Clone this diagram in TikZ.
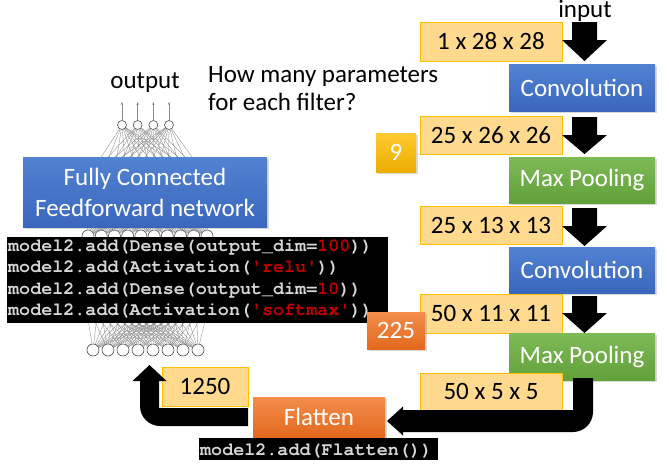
\documentclass[tikz,border=0pt]{standalone}
\usepackage{fontspec}
\setmainfont{Carlito}
\newfontfamily\codefont{TeX Gyre Cursor}
\usetikzlibrary{shadows,arrows.meta}
\definecolor{lightfill}{HTML}{FFD98E}
\definecolor{goldline}{HTML}{FFC000}
\definecolor{blueT}{HTML}{5282D2}
\definecolor{blueB}{HTML}{3A67BD}
\definecolor{greenT}{HTML}{7EBB57}
\definecolor{greenB}{HTML}{62A03A}
\definecolor{orangeT}{HTML}{F38D4C}
\definecolor{orangeB}{HTML}{E2691D}
\definecolor{goldT}{HTML}{FFCA30}
\definecolor{goldB}{HTML}{EBAC00}
\definecolor{codegray}{HTML}{D6D6D6}
\definecolor{codered}{HTML}{C00000}
\definecolor{nnline}{HTML}{8A8A8A}
\tikzset{
  big/.style={font=\fontsize{25}{30}\selectfont},
  box/.style={rectangle, inner sep=0pt, big},
  shad/.style={drop shadow={shadow xshift=1.5pt, shadow yshift=-2pt, opacity=0.3}},
  lightbox/.style={box, fill=lightfill, draw=goldline, line width=0.9pt, text=black},
  bluebox/.style={box, shad, top color=blueT, bottom color=blueB, text=white},
  greenbox/.style={box, shad, top color=greenT, bottom color=greenB, text=white},
  orangebox/.style={box, shad, top color=orangeT, bottom color=orangeB, text=white},
  goldbox/.style={box, shad, top color=goldT, bottom color=goldB, text=white},
  codebox/.style={rectangle, fill=black, inner sep=0pt},
  codetext/.style={inner sep=0pt, text=codegray, font=\codefont\bfseries\fontsize{18.4}{21.6}\selectfont},
  neuron/.style={circle, draw=gray!60!black, fill=white, line width=0.6pt, inner sep=0pt},
  nnedge/.style={draw=nnline, line width=0.35pt},
  blockarrow/.style={fill=black},
}
\begin{document}
\begin{tikzpicture}[x=1pt,y=-1pt]
\useasboundingbox (0,0) rectangle (669,466);

% ---------------- neural network ----------------
\foreach \i in {0,...,3}
  \node[neuron, minimum size=9] (a\i) at ({122+15.67*\i},125) {};
\foreach \j in {0,...,9}
  \node[neuron, minimum size=12] (h\j) at ({85+13.889*\j},182) {};
\foreach \j in {0,...,9}
  \node[neuron, minimum size=12] (b\j) at ({88+13.222*\j},236) {};
\foreach \j in {0,...,9}
  \node[neuron, minimum size=12] (d\j) at ({85+13.889*\j},300) {};
\foreach \j in {0,...,7}
  \node[neuron, minimum size=12] (c\j) at ({93+15*\j},350) {};
\foreach \i in {0,...,3}{
  \coordinate (o\i) at ({122+15.67*\i},102);
  \draw[nnedge, -{Stealth[length=3pt,width=2.5pt]}] (a\i) -- (o\i);
  \foreach \j in {0,...,9} \draw[nnedge] (a\i) -- (h\j);
}
\foreach \i in {0,...,9}{
  \foreach \j in {0,...,9} \draw[nnedge] (h\i) -- (b\j);
  \foreach \j in {0,...,9} \draw[nnedge] (b\i) -- (d\j);
  \foreach \j in {0,...,7} \draw[nnedge] (d\i) -- (c\j);
}
\node[inner sep=0pt, big, anchor=base] (out) at (145,88) {output};

\node[bluebox, minimum width=244, minimum height=70, align=center] (fc) at (145,192)
  {Fully Connected\\[1pt]Feedforward network};

% ---------------- code block ----------------
\node[codebox, minimum width=381, minimum height=86, anchor=north west] (code) at (7,237) {};
\node[codetext, anchor=base west] (code1) at (8,251)
  {model2.add(Dense(output\_dim=\textcolor{codered}{100}))};
\node[codetext, anchor=base west] (code2) at (8,272.6)
  {model2.add(Activation(\textcolor{codered}{\textquotesingle relu\textquotesingle}))};
\node[codetext, anchor=base west] (code3) at (8,294.2)
  {model2.add(Dense(output\_dim=\textcolor{codered}{10}))};
\node[codetext, anchor=base west] (code4) at (8,315.8)
  {model2.add(Activation(\textcolor{codered}{\textquotesingle softmax\textquotesingle}))};

% ---------------- question ----------------
\node[inner sep=0pt, big, anchor=base west] (q1) at (208,82) {How many parameters};
\node[inner sep=0pt, big, anchor=base west] (q2) at (208,110) {for each filter?};

% ---------------- right column ----------------
\node[inner sep=0pt, big, anchor=base] (inp) at (585,17.5) {input};

\node[lightbox, minimum width=142, minimum height=39] (s1) at (491,41.5) {1 x 28 x 28};
\node[bluebox, minimum width=146, minimum height=47] (conv1) at (582,87.5) {Convolution};
\node[lightbox, minimum width=142, minimum height=38] (s2) at (491,135) {25 x 26 x 26};
\node[greenbox, minimum width=146, minimum height=46] (mp1) at (582,180) {Max Pooling};
\node[lightbox, minimum width=142, minimum height=38] (s3) at (491,225) {25 x 13 x 13};
\node[bluebox, minimum width=146, minimum height=46] (conv2) at (582,270) {Convolution};
\node[lightbox, minimum width=142, minimum height=39] (s4) at (491,313.5) {50 x 11 x 11};
\node[greenbox, minimum width=146, minimum height=47] (mp2) at (582,356.5) {Max Pooling};
\node[lightbox, minimum width=142, minimum height=37] (s5) at (491,391.5) {50 x 5 x 5};

\node[goldbox, minimum width=40, minimum height=39] (p9) at (396,152.5) {9};
\node[orangebox, minimum width=58, minimum height=37] (p225) at (396,330.5) {225};

% down block arrows
\foreach \ya/\yb/\yc in {22/40/61, 117/135/154, 208/226/246, 296/313/333}{
  \fill[blockarrow] (572,\ya) -- (597,\ya) -- (597,\yb) -- (607,\yb) -- (584.5,\yc)
    -- (562,\yb) -- (572,\yb) -- cycle;
}

% ---------------- bottom ----------------
\node[orangebox, minimum width=132, minimum height=40] (flat) at (319,417) {Flatten};
\node[lightbox, minimum width=86, minimum height=39] (n1250) at (205,386.5) {1250};

% U-turn arrow from Max Pooling to Flatten
\fill[blockarrow] (573,378) -- (593,378) -- (593,412)
  .. controls (593,423) and (584,432) .. (573,432)
  -- (403,432) -- (403,435.5) -- (387,421) -- (403,406.5) -- (403,410)
  -- (573,410) -- cycle;

% U-turn arrow from Flatten up to the network
\fill[blockarrow] (248,408) -- (159,408) -- (159,381) -- (166.5,381) -- (149.5,365)
  -- (132.5,381) -- (140,381) -- (140,406)
  .. controls (140,417) and (149,426) .. (160,426)
  -- (248,426) -- cycle;

\node[codebox, minimum width=239, minimum height=22, anchor=north west] (fcode) at (199,438) {};
\node[codetext, anchor=base west] (fcodet) at (200,455) {model2.add(Flatten())};
\end{tikzpicture}
\end{document}
